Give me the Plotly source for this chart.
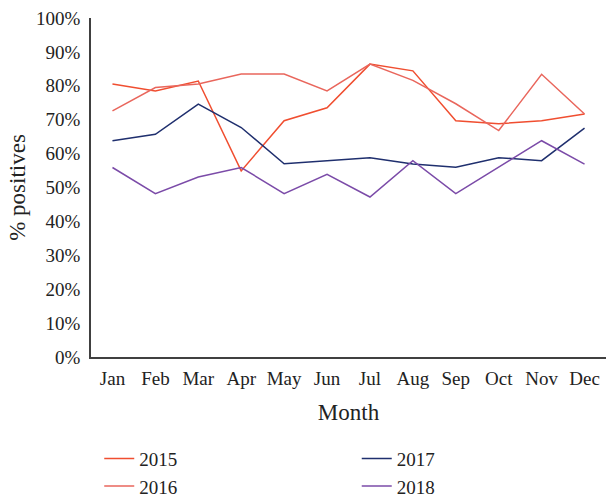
import plotly.graph_objects as go

months = ["Jan", "Feb", "Mar", "Apr", "May", "Jun", "Jul", "Aug", "Sep", "Oct", "Nov", "Dec"]
y2015 = [80.5, 78.5, 81.4, 54.9, 69.7, 73.5, 86.4, 84.4, 69.7, 68.8, 69.7, 71.7]
y2016 = [72.6, 79.5, 80.5, 83.5, 83.5, 78.5, 86.4, 81.6, 74.7, 66.8, 83.4, 71.7]
y2017 = [63.8, 65.7, 74.6, 67.7, 57.0, 57.9, 58.8, 56.9, 56.0, 58.8, 57.9, 67.5]
y2018 = [55.9, 48.2, 53.1, 55.9, 48.2, 53.9, 47.2, 57.9, 48.2, 56.0, 63.8, 56.9]
years = ["2015", "2016", "2017", "2018"]
colors = ["#F04E30", "#E9665C", "#1F2F6E", "#7B4BA8"]
legends = ["legend", "legend", "legend2", "legend2"]

FONT = "Liberation Serif"
fig = go.Figure()
for name, vals, c, lg in zip(years, [y2015, y2016, y2017, y2018], colors, legends):
    fig.add_trace(go.Scatter(
        x=months, y=[v / 100 for v in vals], name=name, mode="lines",
        line=dict(color=c, width=1.5), legend=lg,
    ))

fig.update_layout(
    width=606, height=498,
    margin=dict(l=91, r=0, t=18, b=141),
    paper_bgcolor="white", plot_bgcolor="white",
    font=dict(family=FONT, size=19, color="#222222"),
    legend=dict(x=0.016, y=0.1174, xanchor="left", yanchor="top", yref="container",
                font=dict(size=19), tracegroupgap=0, itemwidth=30),
    legend2=dict(x=0.516, y=0.1174, xanchor="left", yanchor="top", yref="container",
                 font=dict(size=19), tracegroupgap=0, itemwidth=30),
    xaxis=dict(
        automargin=False, range=[-0.5, 11.5],
        showline=True, linecolor="#404040", linewidth=1.5,
        showgrid=False, ticks="", ticklabelstandoff=3,
        title=dict(text="Month", standoff=16),
    ),
    yaxis=dict(
        automargin=False,
        range=[0, 1], tickformat=".0%", dtick=0.1,
        showline=True, linecolor="#404040", linewidth=1.5,
        showgrid=False, zeroline=False, ticks="", ticklabelstandoff=5,
        title=dict(text="% positives", standoff=4),
    ),
)

fig.write_html("out.html", config={"displayModeBar": False},
               post_script="document.body.style.margin='0';")
